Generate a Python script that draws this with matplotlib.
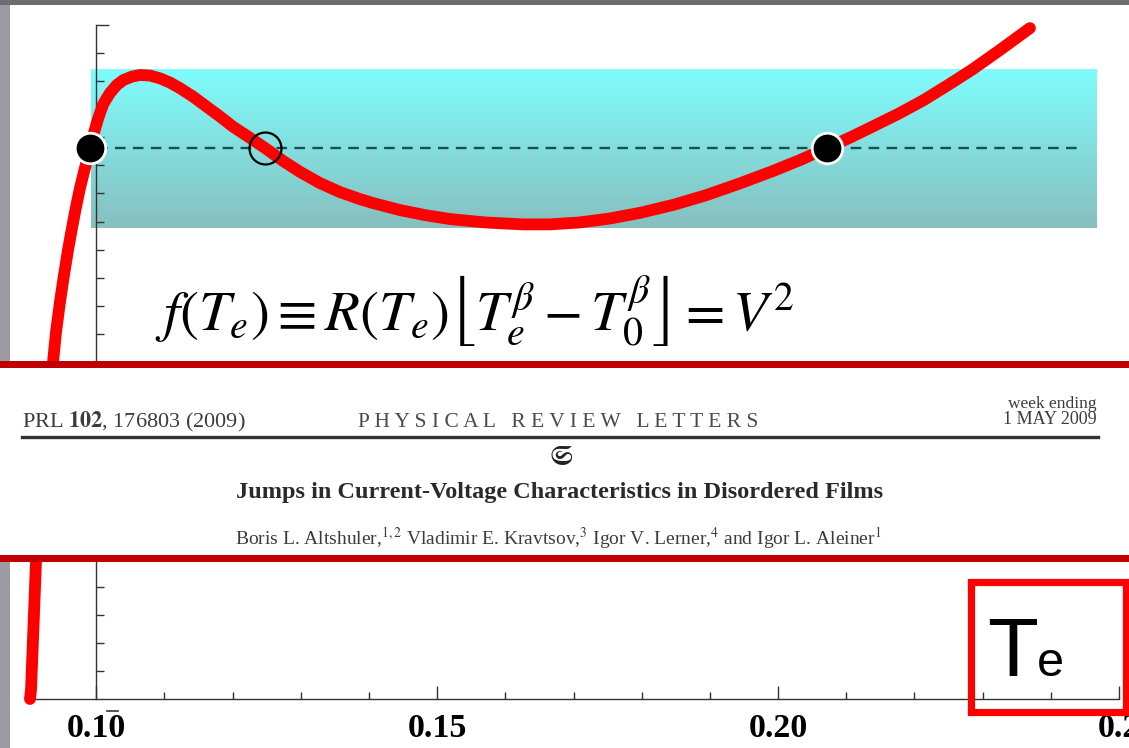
"""
Curva f(Te) com a faixa de tensao e o cabecalho do artigo sobreposto.
"""
import numpy as np
import matplotlib.pyplot as plt
from matplotlib.patches import Rectangle
from matplotlib.lines import Line2D

# Pontos da curva
te = [0.09029, 0.09044, 0.09073, 0.09117, 0.09176, 0.09235, 0.09293, 0.09337,
      0.09367, 0.09411, 0.09469, 0.09528, 0.09587, 0.09645, 0.09704, 0.09763,
      0.09821, 0.09865, 0.09909, 0.09958, 0.10031, 0.10104, 0.10203, 0.10301,
      0.10398, 0.10521, 0.10642, 0.10789, 0.10936, 0.11082, 0.11229, 0.11420,
      0.11621, 0.11816, 0.12006, 0.12256, 0.12476, 0.12740, 0.12989, 0.13282,
      0.13575, 0.13869, 0.14059, 0.14455, 0.14822, 0.15189, 0.15702, 0.16259,
      0.16655, 0.17095, 0.17535, 0.17975, 0.18488, 0.18958, 0.19441, 0.19925,
      0.20321, 0.20717, 0.21055, 0.21392, 0.21759, 0.22125, 0.22492, 0.22858,
      0.23254, 0.23694]
f_te = [0.00, 0.32, 2.10, 4.88, 6.55, 8.23, 9.93, 11.18,
        12.00, 13.07, 14.14, 15.10, 15.99, 16.77, 17.52, 18.20,
        18.77, 19.19, 19.62, 20.08, 20.69, 21.19, 21.58, 21.86,
        22.04, 22.16, 22.22, 22.20, 22.10, 21.95, 21.75, 21.45,
        21.09, 20.74, 20.38, 19.98, 19.62, 19.16, 18.77, 18.37,
        18.05, 17.80, 17.66, 17.41, 17.23, 17.09, 16.97, 16.90,
        16.90, 16.97, 17.11, 17.31, 17.61, 17.95, 18.36, 18.80,
        19.19, 19.62, 19.99, 20.39, 20.83, 21.31, 21.86, 22.43,
        23.11, 23.89]

v2 = 19.62                       # nivel V^2 (linha tracejada)
stable_te = [0.09909, 0.20717]   # solucoes estaveis
unstable_te = [0.12476]          # solucao instavel
band_te = [0.09924, 0.24677]     # faixa ciano
band_f = [16.77, 22.40]
dash_te = [0.10012, 0.24471]

xmajor = [0.10, 0.15, 0.20, 0.25]
xlabels = ['0.10', '0.15', '0.20', '0.2']
xminor = [0.09, 0.11, 0.12, 0.13, 0.14, 0.16, 0.17, 0.18, 0.19,
          0.21, 0.22, 0.23, 0.24]
yminor = list(range(1, 24))
ymajor = [24]

W, H = 1129, 748
fx = lambda px: px / W
fy = lambda py: 1 - py / H

fig = plt.figure(figsize=(W / 100, H / 100), dpi=100)
fig.patch.set_facecolor('white')
ax = fig.add_axes([fx(28), fy(699), fx(1091), 674 / H])
ax.set_facecolor('none')

# faixa ciano com degrade
top = np.array([0.50, 0.99, 0.99])
bot = np.array([0.53, 0.75, 0.75])
t = np.linspace(0, 1, 64)[:, None, None]
grad = top * (1 - t) + bot * t
ax.imshow(grad, extent=[band_te[0], band_te[1], band_f[0], band_f[1]],
          origin='upper', aspect='auto', zorder=0.5)

ax.plot(dash_te, [v2, v2], color='#1a4f4f', lw=1.7, dashes=(4.5, 3.1), zorder=2)
ax.plot(te, f_te, color='#ff0000', lw=8.5, solid_capstyle='round',
        solid_joinstyle='round', zorder=3, clip_on=False)
ax.plot(stable_te, [v2] * len(stable_te), 'o', ms=22, mfc='black', mec='white',
        mew=2, zorder=4, clip_on=False)
ax.plot(unstable_te, [v2] * len(unstable_te), 'o', ms=23, mfc='none',
        mec='black', mew=1.6, zorder=4)

ax.set_xlim(0.09, 0.25)
ax.set_ylim(0, 24)
ax.spines['top'].set_visible(False)
ax.spines['right'].set_visible(False)
ax.spines['left'].set_position(('data', 0.10))
for s in ['left', 'bottom']:
    ax.spines[s].set_color('#333333')
    ax.spines[s].set_linewidth(1.0)
ax.set_xticks(xmajor)
ax.set_xticklabels(xlabels, fontfamily='Liberation Serif', fontweight='bold',
                   fontsize=24.5)
ax.set_xticks(xminor, minor=True)
ax.set_yticks(ymajor)
ax.set_yticklabels([])
ax.set_yticks(yminor, minor=True)
ax.tick_params(axis='x', which='major', direction='in', length=9.5, width=1,
               color='#333333', pad=10)
ax.tick_params(axis='x', which='minor', direction='in', length=5, width=1,
               color='#333333')
ax.tick_params(axis='y', which='major', direction='in', length=9, width=1,
               color='#333333')
ax.tick_params(axis='y', which='minor', direction='in', length=6, width=1,
               color='#333333')

# traco sobre o rotulo 0.10
fig.add_artist(Line2D([fx(107), fx(118)], [fy(711), fy(711)], color='#333333',
                      lw=1.2, zorder=6))

# formula
fig.text(fx(155), fy(332),
         r'$f(T_e)\equiv R(T_e)\left\lfloor T_e^{\beta}-T_0^{\beta}\right\rfloor = V^2$',
         fontsize=41, math_fontfamily='stix', va='baseline', ha='left', zorder=6)

# bordas cinzas do slide
fig.add_artist(Rectangle((0, fy(5)), 1, 5 / H, transform=fig.transFigure,
                         color='#6d6c70', lw=0, zorder=1))
fig.add_artist(Rectangle((0, 0), fx(10), fy(5), transform=fig.transFigure,
                         color='#9c9aa2', lw=0, zorder=1))

# cabecalho do artigo sobreposto
fig.add_artist(Rectangle((0, fy(562)), 1, 201 / H, transform=fig.transFigure,
                         color='white', lw=0, zorder=10))
fig.add_artist(Rectangle((0, fy(368)), 1, 7 / H, transform=fig.transFigure,
                         color='#c00000', lw=0, zorder=11))
fig.add_artist(Rectangle((0, fy(562)), 1, 7 / H, transform=fig.transFigure,
                         color='#c00000', lw=0, zorder=11))
fig.add_artist(Line2D([fx(22), fx(1098)], [fy(437), fy(437)], color='#333333',
                      lw=2.4, zorder=11))

gray = '#3c3c3c'
fig.text(fx(22), fy(427), r'PRL $\mathbf{102}$, 176803 (2009)', fontsize=16,
         fontfamily='Liberation Serif', math_fontfamily='stix', color=gray,
         va='baseline', ha='left', zorder=12)
fig.text(fx(558), fy(427), 'P H Y S I C A L   R E V I E W   L E T T E R S',
         fontsize=15.5, fontfamily='Liberation Serif', color='#4a4a4a',
         va='baseline', ha='center', zorder=12)
fig.text(fx(1097), fy(408), 'week ending', fontsize=12.5,
         fontfamily='Liberation Serif', color=gray, va='baseline', ha='right',
         zorder=12)
fig.text(fx(1097), fy(424), '1 MAY 2009', fontsize=13,
         fontfamily='Liberation Serif', color=gray, va='baseline', ha='right',
         zorder=12)
fig.text(fx(561), fy(457), r'$\mathfrak{S}$', fontsize=20, math_fontfamily='stix',
         color='#222222', va='center', ha='center', zorder=12)
fig.text(fx(560), fy(498),
         'Jumps in Current-Voltage Characteristics in Disordered Films',
         fontsize=17.5, fontfamily='Liberation Serif', fontweight='bold',
         color='#2a2a2a', va='baseline', ha='center', zorder=12)
fig.text(fx(558), fy(545),
         r'Boris L. Altshuler,$^{1,2}$ Vladimir E. Kravtsov,$^{3}$ '
         r'Igor V. Lerner,$^{4}$ and Igor L. Aleiner$^{1}$',
         fontsize=14, fontfamily='Liberation Serif', math_fontfamily='stix',
         color=gray, va='baseline', ha='center', zorder=12)

# caixa vermelha com Te
fig.add_artist(Rectangle((fx(970.5), fy(711.5)), fx(155), 130 / H,
                         transform=fig.transFigure, fill=False,
                         edgecolor='#ff0000', lw=5.2, zorder=12))
fig.text(fx(987), fy(676), 'T', fontsize=60, fontfamily='Liberation Sans',
         va='baseline', ha='left', zorder=13)
fig.text(fx(1037), fy(676), 'e', fontsize=35, fontfamily='Liberation Sans',
         va='baseline', ha='left', zorder=13)

plt.savefig('out.png', dpi=100)
